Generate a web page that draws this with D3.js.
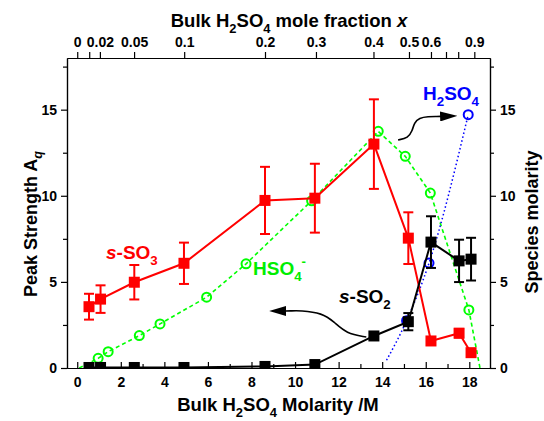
<!DOCTYPE html>
<html>
<head>
<meta charset="utf-8">
<script src="https://cdn.jsdelivr.net/npm/d3@7"></script>
<style>
  body { margin: 0; background: #fff; }
  text { font-family: Arial, "Liberation Sans", sans-serif; font-weight: bold; }
</style>
</head>
<body>
<svg width="544" height="421"></svg>
<script>
// bulk molarity of each sample (M)
const bulkM = [0.54, 1.07, 2.62, 4.90, 8.62, 10.91, 13.62, 15.20, 16.24, 17.53, 18.08];

// s-SO3 peak strength and error
const sso3 = [3.56, 4.00, 4.98, 6.08, 9.73, 9.86, 13.00, 7.54, 1.57, 2.02, 0.89];
const sso3Err = [0.75, 0.80, 1.00, 1.20, 1.95, 2.00, 2.60, 1.50, 0, 0.25, 0];

// s-SO2 peak strength and error
const sso2 = [0.03, 0.03, 0.03, 0.03, 0.09, 0.20, 1.86, 2.69, 7.31, 6.22, 6.32];
const sso2Err = [0, 0, 0, 0, 0, 0, 0, 0.50, 1.50, 1.23, 1.24];

// HSO4- species molarity (curve ends have no marker)
const hso4M = [0.09, 0.96, 1.42, 2.85, 3.80, 5.94, 7.75, 10.76, 13.82, 15.06, 16.21, 17.98, 18.49];
const hso4V = [0, 0.56, 0.95, 1.88, 2.56, 4.11, 6.05, 9.71, 13.74, 12.29, 10.16, 3.37, 0];
const hso4Mark = [false, true, true, true, true, true, true, true, true, true, true, true, false];

// H2SO4 species molarity
const h2so4M = [14.20, 15.12, 16.15, 17.95];
const h2so4V = [0.45, 2.75, 6.09, 14.71];
const h2so4Mark = [false, true, true, true];

// top axis: mole fraction ticks and the molarity they sit at
const moleFrac = ["0", "", "0.02", "0.05", "0.1", "0.2", "0.3", "0.4", "0.5", "0.6", "", "", "0.9"];
const moleFracM = [0, 0.55, 1.04, 2.61, 4.91, 8.62, 10.96, 13.60, 15.23, 16.24, 16.93, 17.49, 18.23];

const xMajor = [0, 2, 4, 6, 8, 10, 12, 14, 16, 18];
const xMinor = [1, 3, 5, 7, 9, 11, 13, 15, 17];
const yMajor = [0, 5, 10, 15];
const yMinor = [2.5, 7.5, 12.5, 17.5];

// annotation arrows, in data units
const arrowSO2 = [[13.27, 1.80], [12.35, 2.00], [11.80, 2.67], [11.25, 3.19], [10.24, 3.34], [9.78, 3.31], [9.50, 3.31]];
const arrowHSO4 = [[14.73, 13.24], [15.19, 13.36], [15.38, 13.76], [15.47, 14.23], [15.70, 14.52], [16.11, 14.60], [16.52, 14.60], [16.75, 14.61]];

const svg = d3.select("svg");
const x = d3.scaleLinear().domain([-0.47, 18.95]).range([67, 490]);
const y = d3.scaleLinear().domain([0, 18]).range([368, 58]);
const yR = d3.scaleLinear().domain([0, 18]).range([368, 58]);

const defs = svg.append("defs");
defs.append("clipPath").attr("id", "plot")
  .append("rect").attr("x", 67).attr("y", 58).attr("width", 423).attr("height", 310);
defs.append("marker")
  .attr("id", "head")
  .attr("markerUnits", "userSpaceOnUse")
  .attr("markerWidth", 17).attr("markerHeight", 10)
  .attr("refX", 2).attr("refY", 5)
  .attr("orient", "auto")
  .append("path").attr("d", "M0,0 L17,5 L0,10 Z").attr("fill", "#000");

function styleAxis(g) {
  g.selectAll("path, line").attr("stroke", "#000").attr("stroke-width", 1.2);
  g.selectAll("text").style("font-size", "14px").style("font-family", "Arial, 'Liberation Sans', sans-serif")
    .style("font-weight", "bold").attr("fill", "#000");
}

// bottom axis, ticks point inward
svg.append("g").attr("transform", "translate(0,368)")
  .call(d3.axisBottom(x).tickValues(xMajor).tickSize(-6).tickSizeOuter(0).tickPadding(9))
  .call(styleAxis);
svg.append("g").attr("transform", "translate(0,368)")
  .call(d3.axisBottom(x).tickValues(xMinor).tickSize(-4).tickSizeOuter(0).tickFormat(""))
  .call(styleAxis);

// top axis
svg.append("g").attr("transform", "translate(0,58)")
  .call(d3.axisTop(x).tickValues(moleFracM).tickSize(6).tickSizeOuter(0).tickPadding(5)
    .tickFormat((d, i) => moleFrac[i]))
  .call(styleAxis);

// left axis
svg.append("g").attr("transform", "translate(67,0)")
  .call(d3.axisLeft(y).tickValues(yMajor).tickSize(6).tickSizeOuter(0).tickPadding(4))
  .call(styleAxis);
svg.append("g").attr("transform", "translate(67,0)")
  .call(d3.axisLeft(y).tickValues(yMinor).tickSize(4).tickSizeOuter(0).tickFormat(""))
  .call(styleAxis);

// right axis
svg.append("g").attr("transform", "translate(490,0)")
  .call(d3.axisRight(yR).tickValues(yMajor).tickSize(6).tickSizeOuter(0).tickPadding(4))
  .call(styleAxis);
svg.append("g").attr("transform", "translate(490,0)")
  .call(d3.axisRight(yR).tickValues(yMinor).tickSize(4).tickSizeOuter(0).tickFormat(""))
  .call(styleAxis);

// text with sub/superscripts
function richText(g, parts, color, size) {
  const t = g.append("text").attr("fill", color).style("font-size", size + "px");
  let shift = 0;
  parts.forEach(function(p) {
    const s = t.append("tspan").text(p.t);
    const target = p.sub ? size * 0.3 : p.sup ? -size * 0.45 : 0;
    s.attr("dy", target - shift);
    shift = target;
    if (p.sub || p.sup) s.style("font-size", (size * 0.7) + "px");
    if (p.it) s.style("font-style", "italic");
  });
  return t;
}

const plot = svg.append("g").attr("clip-path", "url(#plot)");

// HSO4- (right axis)
const hso4 = hso4M.map((m, i) => ({ m: m, v: hso4V[i], mark: hso4Mark[i] }));
plot.append("path")
  .attr("d", d3.line().x(d => x(d.m)).y(d => yR(d.v))(hso4))
  .attr("fill", "none").attr("stroke", "#00ff00").attr("stroke-width", 1.6).attr("stroke-dasharray", "4,3");
plot.selectAll(".hso4").data(hso4.filter(d => d.mark)).join("circle")
  .attr("class", "hso4")
  .attr("cx", d => x(d.m)).attr("cy", d => yR(d.v)).attr("r", 4.5)
  .attr("fill", "none").attr("stroke", "#00ff00").attr("stroke-width", 2);

// H2SO4 (right axis)
const h2so4 = h2so4M.map((m, i) => ({ m: m, v: h2so4V[i], mark: h2so4Mark[i] }));
plot.append("path")
  .attr("d", d3.line().x(d => x(d.m)).y(d => yR(d.v)).curve(d3.curveMonotoneX)(h2so4))
  .attr("fill", "none").attr("stroke", "#0000ff").attr("stroke-width", 1.5).attr("stroke-dasharray", "1.5,2.5");
plot.selectAll(".h2so4").data(h2so4.filter(d => d.mark)).join("circle")
  .attr("class", "h2so4")
  .attr("cx", d => x(d.m)).attr("cy", d => yR(d.v)).attr("r", 4.5)
  .attr("fill", "none").attr("stroke", "#0000ff").attr("stroke-width", 2);

// peak strength series with error bars (left axis)
function drawSeries(vals, errs, color) {
  const pts = bulkM.map((m, i) => ({ m: m, v: vals[i], e: errs[i] }));
  plot.append("path")
    .attr("d", d3.line().x(d => x(d.m)).y(d => y(d.v))(pts))
    .attr("fill", "none").attr("stroke", color).attr("stroke-width", 2);
  const eb = plot.append("g").attr("stroke", color).attr("stroke-width", 2);
  const withErr = pts.filter(d => d.e > 0);
  eb.selectAll(".bar").data(withErr).join("line")
    .attr("x1", d => x(d.m)).attr("x2", d => x(d.m))
    .attr("y1", d => y(d.v - d.e)).attr("y2", d => y(d.v + d.e));
  eb.selectAll(".capTop").data(withErr).join("line")
    .attr("x1", d => x(d.m) - 5).attr("x2", d => x(d.m) + 5)
    .attr("y1", d => y(d.v + d.e)).attr("y2", d => y(d.v + d.e));
  eb.selectAll(".capBot").data(withErr).join("line")
    .attr("x1", d => x(d.m) - 5).attr("x2", d => x(d.m) + 5)
    .attr("y1", d => y(d.v - d.e)).attr("y2", d => y(d.v - d.e));
  plot.append("g").selectAll("rect").data(pts).join("rect")
    .attr("x", d => x(d.m) - 5.5).attr("y", d => y(d.v) - 5.5)
    .attr("width", 11).attr("height", 11)
    .attr("fill", color);
}
drawSeries(sso3, sso3Err, "#ff0000");
drawSeries(sso2, sso2Err, "#000000");

// arrows
const arrowLine = d3.line().x(d => x(d[0])).y(d => y(d[1])).curve(d3.curveBasis);
svg.append("path").attr("d", arrowLine(arrowSO2))
  .attr("fill", "none").attr("stroke", "#000").attr("stroke-width", 1.6).attr("marker-end", "url(#head)");
svg.append("path").attr("d", arrowLine(arrowHSO4))
  .attr("fill", "none").attr("stroke", "#000").attr("stroke-width", 1.6).attr("marker-end", "url(#head)");

// series labels
richText(svg, [{ t: "s", it: true }, { t: "-SO" }, { t: "3", sub: true }], "#ff0000", 19)
  .attr("x", 106).attr("y", 259);
richText(svg, [{ t: "HSO" }, { t: "4", sub: true }, { t: "-", sup: true }], "#00ee00", 19)
  .attr("x", 253).attr("y", 275);
richText(svg, [{ t: "s", it: true }, { t: "-SO" }, { t: "2", sub: true }], "#000", 19)
  .attr("x", 339).attr("y", 303);
richText(svg, [{ t: "H" }, { t: "2", sub: true }, { t: "SO" }, { t: "4", sub: true }], "#0000ff", 19)
  .attr("x", 423).attr("y", 100);

// axis titles
richText(svg, [{ t: "Bulk H" }, { t: "2", sub: true }, { t: "SO" }, { t: "4", sub: true },
  { t: " mole fraction " }, { t: "x", it: true }], "#000", 18.5)
  .attr("x", 289).attr("y", 27).attr("text-anchor", "middle");
richText(svg, [{ t: "Bulk H" }, { t: "2", sub: true }, { t: "SO" }, { t: "4", sub: true },
  { t: " Molarity /M" }], "#000", 18.5)
  .attr("x", 278).attr("y", 411).attr("text-anchor", "middle");
richText(svg, [{ t: "Peak Strength A" }, { t: "q", sub: true, it: true }], "#000", 18)
  .attr("transform", "translate(37,224) rotate(-90)").attr("text-anchor", "middle");
richText(svg, [{ t: "Species molarity" }], "#000", 18)
  .attr("transform", "translate(538,222) rotate(-90)").attr("text-anchor", "middle");
</script>
</body>
</html>
